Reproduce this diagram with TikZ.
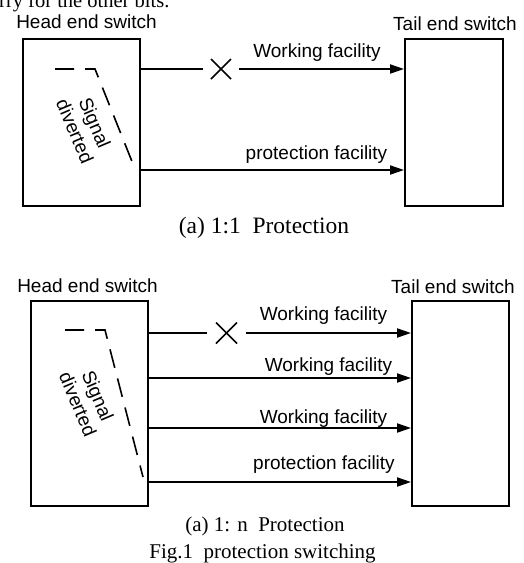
\documentclass[tikz,border=0pt]{standalone}
\usepackage{fontspec}
\setmainfont{Liberation Serif}
\newfontfamily\arialf{Liberation Sans}
\usetikzlibrary{arrows.meta}
\begin{document}
\begin{tikzpicture}[x=1pt,y=-1pt,
  box/.style={draw, line width=1.9pt, inner sep=0pt},
  link/.style={line width=1.9pt, -{Triangle[length=14pt,width=9pt]}},
  plain/.style={line width=1.9pt},
  cross/.style={line width=1.7pt},
  divert/.style={line width=1.6pt, dash pattern=on 19pt off 11pt},
  lbl/.style={font=\arialf\fontsize{19}{21.5}\selectfont, inner sep=0pt, anchor=base},
  rot/.style={font=\arialf\fontsize{19}{21.5}\selectfont, inner sep=0pt, align=center, rotate=-67},
  captext/.style={font=\fontsize{21}{24}\selectfont, inner sep=0pt, anchor=base},
]
\useasboundingbox (0,0) rectangle (523,563);
\begin{scope}
\clip (0,0) rectangle (523,563);
\node[font=\fontsize{20.5}{23}\selectfont, inner sep=0pt, anchor=base west] (body) at (-1,7) {rry for the other bits.};
\end{scope}

% ---------- top panel ----------
\node[lbl] (hl1) at (86.5,28) {Head end switch};
\node[lbl] (tl1) at (455,30) {Tail end switch};
\node[box, minimum width=117pt, minimum height=167pt] (h1) at (81.5,122.5) {};
\node[box, minimum width=98pt, minimum height=167pt] (t1) at (454,122.5) {};
\coordinate (x1) at (221,69);
\coordinate (p1) at (0,170);
\draw[plain] (h1.east |- x1) -- ([xshift=-18pt]x1);
\draw[link] ([xshift=18pt]x1) -- (t1.west |- x1);
\draw[cross] ([shift={(-10pt,-10pt)}]x1) -- ([shift={(10pt,10pt)}]x1);
\draw[cross] ([shift={(-10pt,10pt)}]x1) -- ([shift={(10pt,-10pt)}]x1);
\draw[link] (h1.east |- p1) -- (t1.west |- p1);
\node[lbl] (wf1) at (317,57) {Working facility};
\node[lbl] (pf1) at (316.5,159) {protection facility};
\draw[divert] (55,69) -- (95,69) -- (133,164);
\node[rot] (sd1) at (85,127) {Signal\\diverted};
\node[captext, font=\fontsize{23.5}{26}\selectfont] (c1) at (264,233) {(a) 1:1\ \ Protection};

% ---------- bottom panel ----------
\node[lbl] (hl2) at (87.5,292) {Head end switch};
\node[lbl] (tl2) at (453,293) {Tail end switch};
\node[box, minimum width=117pt, minimum height=205pt] (h2) at (89.5,403.5) {};
\node[box, minimum width=97pt, minimum height=205pt] (t2) at (460.5,403.5) {};
\coordinate (x2) at (226.5,333);
\coordinate (q2) at (0,378);
\coordinate (q3) at (0,428);
\coordinate (p2) at (0,482);
\draw[plain] (h2.east |- x2) -- ([xshift=-19.5pt]x2);
\draw[link] ([xshift=19.5pt]x2) -- (t2.west |- x2);
\draw[cross] ([shift={(-10.5pt,-10.5pt)}]x2) -- ([shift={(10.5pt,10.5pt)}]x2);
\draw[cross] ([shift={(-10.5pt,10.5pt)}]x2) -- ([shift={(10.5pt,-10.5pt)}]x2);
\draw[link] (h2.east |- q2) -- (t2.west |- q2);
\draw[link] (h2.east |- q3) -- (t2.west |- q3);
\draw[link] (h2.east |- p2) -- (t2.west |- p2);
\node[lbl] (wf2) at (323.5,320) {Working facility};
\node[lbl] (wf3) at (328.5,371) {Working facility};
\node[lbl] (wf4) at (323.5,423) {Working facility};
\node[lbl] (pf2) at (324,469) {protection facility};
\draw[divert] (65,330) -- (105,330) -- (143,477);
\node[rot] (sd2) at (88,400) {Signal\\diverted};
\node[captext] (c2) at (265,531) {(a) 1: n\ \ Protection};
\node[captext] (c3) at (262.5,558) {Fig.1\ \ protection switching};
\end{tikzpicture}
\end{document}
